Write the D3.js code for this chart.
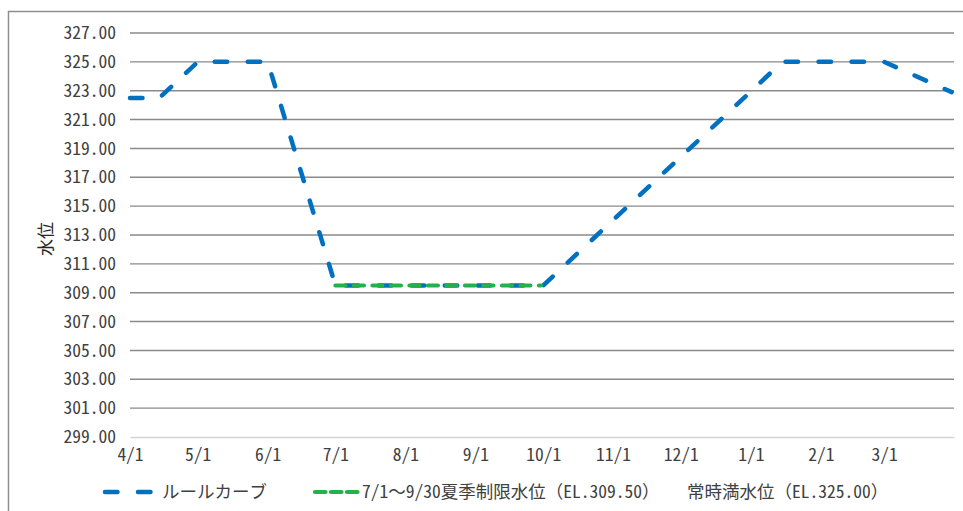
<!DOCTYPE html>
<html lang="ja">
<head>
<meta charset="utf-8">
<script src="https://cdn.jsdelivr.net/npm/d3@7"></script>
<style>
  html, body { margin: 0; padding: 0; background: #fff; }
  svg { display: block; }
  text { font-family: "Noto Sans Mono CJK JP", "Noto Sans CJK JP", "Noto Sans", sans-serif; }
</style>
</head>
<body>
<svg id="chart" width="963" height="511"></svg>
<script>
// ルールカーブ (rule curve) knots: date and water level
const ruleDates  = ["2021-04-01", "2021-04-14", "2021-05-01", "2021-06-01", "2021-07-01",
                    "2021-10-01", "2022-01-15", "2022-03-01", "2022-03-31"];
const ruleLevels = [322.5, 322.5, 325.0, 325.0, 309.5, 309.5, 325.0, 325.0, 322.9];

// 夏季制限水位 (summer restricted level), 7/1〜9/30
const summerDates  = ["2021-07-01", "2021-09-30"];
const summerLevels = [309.5, 309.5];

// Axis ticks
const yTicks = [299, 301, 303, 305, 307, 309, 311, 313, 315, 317, 319, 321, 323, 325, 327];
const xTickDates  = ["2021-04-01", "2021-05-01", "2021-06-01", "2021-07-01", "2021-08-01", "2021-09-01",
                     "2021-10-01", "2021-11-01", "2021-12-01", "2022-01-01", "2022-02-01", "2022-03-01"];
const xTickLabels = ["4/1", "5/1", "6/1", "7/1", "8/1", "9/1", "10/1", "11/1", "12/1", "1/1", "2/1", "3/1"];

// Legend entries
const legendLabels = ["ルールカーブ", "7/1～9/30夏季制限水位（EL.309.50）", "常時満水位（EL.325.00）"];
const yTitle = "水位";

const FONT = "\"Noto Sans Mono CJK JP\", \"Noto Sans CJK JP\", sans-serif";
const FS = 17.5;
const parse = d3.utcParse("%Y-%m-%d");
const svg = d3.select("#chart");

const x = d3.scaleUtc()
  .domain([parse("2021-04-01"), parse("2022-04-01")])
  .range([130, 954]);
const y = d3.scaleLinear()
  .domain([299, 327])
  .range([437, 33]);

// Outer chart frame
svg.append("rect")
  .attr("x", 8.5).attr("y", 11.5)
  .attr("width", 980).attr("height", 520)
  .attr("fill", "none")
  .attr("stroke", "#8f8f8f")
  .attr("stroke-width", 1.5);

// Horizontal gridlines
svg.append("g")
  .selectAll("line")
  .data(yTicks.filter(v => v !== 299))
  .join("line")
  .attr("x1", x.range()[0]).attr("x2", x.range()[1])
  .attr("y1", d => y(d)).attr("y2", d => y(d))
  .attr("stroke", "#8a8a8a")
  .attr("stroke-width", 1.4);

// Y axis with labels
const yAxis = svg.append("g")
  .attr("transform", `translate(${x.range()[0]},0)`)
  .call(d3.axisLeft(y).tickValues(yTicks).tickFormat(d3.format(".2f")).tickSize(0).tickPadding(14));
yAxis.select(".domain").remove();
yAxis.selectAll("text")
  .attr("font-size", FS)
  .attr("fill", "#404040")
  .style("font-family", FONT);

// X axis (bottom category line + month labels)
const xAxis = svg.append("g")
  .attr("transform", `translate(0,${y(299)})`)
  .call(d3.axisBottom(x)
    .tickValues(xTickDates.map(parse))
    .tickFormat((d, i) => xTickLabels[i])
    .tickSize(0).tickPadding(12));
xAxis.select(".domain")
  .attr("stroke", "#d4d4d4")
  .attr("stroke-width", 1.4);
xAxis.selectAll("text")
  .attr("font-size", FS)
  .attr("fill", "#404040")
  .style("font-family", FONT);

// Y axis title
svg.append("text")
  .attr("transform", `translate(52,239) rotate(-90)`)
  .attr("text-anchor", "middle")
  .attr("font-size", 17)
  .attr("fill", "#262626")
  .text(yTitle);

const line = d3.line()
  .x(d => x(d.date))
  .y(d => y(d.value));

const ruleData = ruleDates.map((d, i) => ({ date: parse(d), value: ruleLevels[i] }));
const summerData = summerDates.map((d, i) => ({ date: parse(d), value: summerLevels[i] }));

const blue = "#0070c0";
const green = "#22b14c";

// Rule curve
svg.append("path")
  .datum(ruleData)
  .attr("d", line)
  .attr("fill", "none")
  .attr("stroke", blue)
  .attr("stroke-width", 4.5)
  .attr("stroke-linecap", "round")
  .attr("stroke-linejoin", "round")
  .attr("stroke-dasharray", "12.5 20.5");

// Summer restricted level
svg.append("path")
  .datum(summerData)
  .attr("d", line)
  .attr("fill", "none")
  .attr("stroke", green)
  .attr("stroke-width", 4.2)
  .attr("stroke-linecap", "round")
  .attr("stroke-dasharray", "10 8.5");

// Legend
const legY = 492;
const leg = svg.append("g");
leg.append("line")
  .attr("x1", 105).attr("x2", 155).attr("y1", legY).attr("y2", legY)
  .attr("stroke", blue).attr("stroke-width", 4.5)
  .attr("stroke-linecap", "round").attr("stroke-dasharray", "12.5 20.5");
leg.append("line")
  .attr("x1", 315).attr("x2", 358).attr("y1", legY).attr("y2", legY)
  .attr("stroke", green).attr("stroke-width", 4.2)
  .attr("stroke-linecap", "round").attr("stroke-dasharray", "10.5 5.5");

const legX = [162, 362, 687];
leg.selectAll("text")
  .data(legendLabels)
  .join("text")
  .attr("x", (d, i) => legX[i])
  .attr("y", legY)
  .attr("dy", "0.35em")
  .attr("font-size", FS)
  .attr("fill", "#404040")
  .text(d => d);
</script>
</body>
</html>
